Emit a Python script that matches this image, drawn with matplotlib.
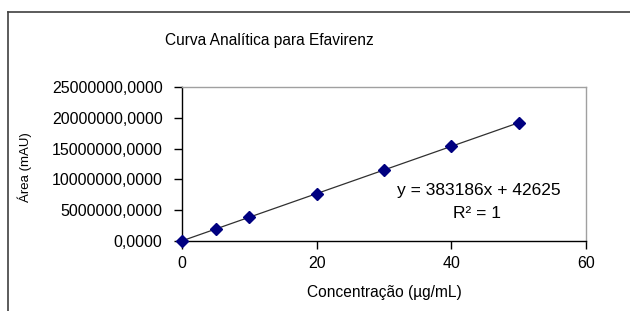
import numpy as np
import matplotlib
matplotlib.use("Agg")
import matplotlib.pyplot as plt
from matplotlib.ticker import FuncFormatter
from matplotlib.lines import Line2D

plt.rcParams['font.family'] = ['Liberation Sans', 'DejaVu Sans']

# concentrations (ug/mL) and peak areas (mAU)
conc = [0, 5, 10, 20, 30, 40, 50]
area = [0, 1960000, 3870000, 7700000, 11540000, 15350000, 19200000]
x_ticks = [0, 20, 40, 60]
y_ticks = [0, 5e6, 10e6, 15e6, 20e6, 25e6]

fig = plt.figure(figsize=(6.3, 3.11), dpi=100)
ax = fig.add_axes([182 / 630, 70 / 311, 404 / 630, 154 / 311])

# linear trendline
slope, intercept = np.polyfit(conc, area, 1)
xs = np.array([min(conc), max(conc)])
ax.plot(xs, slope * xs + intercept, color='#303030', lw=0.9, zorder=2)
ax.plot(conc, area, linestyle='none', marker='D', ms=6,
        color='#000080', zorder=3, clip_on=False)

ax.set_xlim(0, 60)
ax.set_ylim(0, 25e6)
ax.set_xticks(x_ticks)
ax.set_yticks(y_ticks)
ax.yaxis.set_major_formatter(FuncFormatter(lambda v, p: f"{v:.4f}".replace('.', ',')))
ax.tick_params(direction='out', length=6, width=1, color='black',
               labelsize=11.5, pad=5)
ax.tick_params(axis='y', pad=8)

for s in ['left', 'bottom']:
    ax.spines[s].set_color('black')
    ax.spines[s].set_linewidth(1)
for s in ['top', 'right']:
    ax.spines[s].set_color('#a0a0a0')
    ax.spines[s].set_linewidth(1)

ax.set_xlabel('Concentração (µg/mL)', fontsize=11.2, labelpad=10)
fig.text(25 / 630, 1 - 167 / 311, 'Área (mAU)', rotation=90, fontsize=9.5,
         ha='center', va='center')
fig.text(269 / 630, 1 - 40 / 311, 'Curva Analítica para Efavirenz',
         fontsize=11.2, ha='center', va='center')

ax.text((479 - 182) / 404, (241 - 190) / 154, 'y = 383186x + 42625',
        transform=ax.transAxes, fontsize=12.5, ha='center', va='center')
ax.text((477 - 182) / 404, (241 - 213) / 154, 'R² = 1',
        transform=ax.transAxes, fontsize=12.5, ha='center', va='center')

# outer chart frame (cropped)
fig.add_artist(Line2D([8 / 630, 8 / 630], [0, 1 - 12 / 311], color='#404040', lw=1.2,
                      transform=fig.transFigure))
fig.add_artist(Line2D([8 / 630, 1], [1 - 12 / 311, 1 - 12 / 311], color='#404040', lw=1.2,
                      transform=fig.transFigure))

fig.savefig('out.png', dpi=100)
